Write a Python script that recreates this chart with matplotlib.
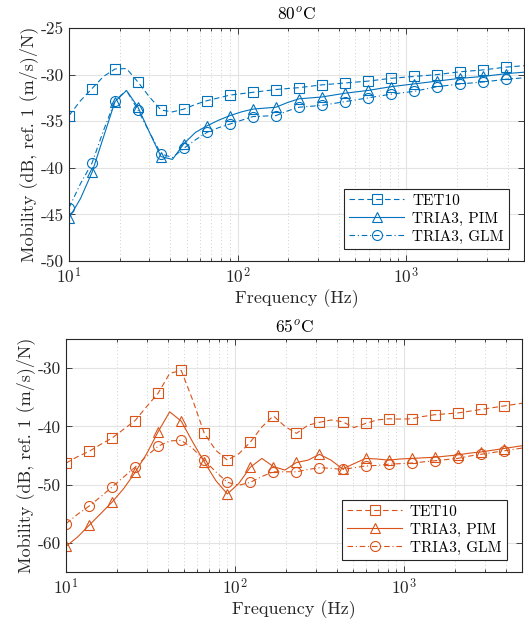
import numpy as np
import matplotlib
matplotlib.use("Agg")
import matplotlib.pyplot as plt
from matplotlib.ticker import FixedLocator, NullFormatter, FuncFormatter

plt.rcParams.update({
    "font.family": "serif",
    "font.serif": ["cmr10"],
    "mathtext.fontset": "cm",
    "axes.unicode_minus": False,
    "axes.formatter.use_mathtext": True,
})

# Frequency samples: half-step log grid, markers on every second sample
freq = np.logspace(1, 1 + 0.0682 * 40, 41)

# 80 degC
tet10_80 = [-34.4, -32.8, -31.5, -30.2, -29.4, -29.35, -30.8, -32.4, -33.8, -34.0,
            -33.7, -33.2, -32.8, -32.5, -32.2, -32.05, -31.9, -31.75, -31.6, -31.5,
            -31.4, -31.25, -31.1, -31.0, -30.9, -30.8, -30.7, -30.55, -30.4, -30.3,
            -30.2, -30.1, -30.0, -29.85, -29.7, -29.6, -29.5, -29.35, -29.2, -29.1, -29.0]
pim_80 = [-45.4, -43.3, -40.5, -36.7, -32.9, -31.7, -33.5, -36.2, -38.8, -39.1,
          -37.4, -36.2, -35.5, -34.9, -34.4, -34.0, -33.7, -33.6, -33.5, -33.0,
          -32.6, -32.5, -32.4, -32.2, -32.0, -31.85, -31.7, -31.5, -31.3, -31.15,
          -31.0, -30.85, -30.7, -30.55, -30.4, -30.3, -30.2, -30.05, -29.9, -29.8, -29.7]
glm_80 = [-44.3, -41.7, -39.5, -36.0, -32.8, -31.7, -33.8, -36.2, -38.5, -38.9,
          -37.9, -37.0, -36.2, -35.7, -35.3, -34.9, -34.5, -34.45, -34.4, -33.9,
          -33.5, -33.4, -33.3, -33.1, -32.9, -32.7, -32.5, -32.3, -32.1, -31.95,
          -31.8, -31.55, -31.3, -31.15, -31.0, -30.9, -30.8, -30.65, -30.5, -30.4, -30.3]

# 65 degC
tet10_65 = [-46.3, -45.2, -44.3, -43.1, -42.0, -40.5, -39.0, -36.6, -34.3, -30.9,
            -30.4, -35.5, -41.2, -44.1, -45.8, -44.7, -42.7, -40.1, -38.2, -40.0,
            -41.2, -39.8, -39.3, -38.9, -39.2, -40.2, -39.5, -38.9, -38.7, -38.75,
            -38.7, -38.3, -38.0, -37.85, -37.7, -37.4, -37.1, -36.8, -36.5, -36.2, -35.9]
pim_65 = [-60.6, -59.0, -57.0, -55.0, -53.0, -50.7, -47.9, -44.7, -40.9, -37.5,
          -39.1, -42.7, -46.1, -49.3, -51.6, -49.8, -47.0, -45.5, -46.9, -47.5,
          -46.2, -45.8, -44.8, -45.8, -47.3, -46.4, -45.5, -45.6, -45.8, -45.6,
          -45.5, -45.4, -45.3, -45.1, -44.9, -44.6, -44.4, -44.1, -43.8, -43.5, -43.2]
glm_65 = [-56.7, -55.1, -53.7, -52.1, -50.4, -48.7, -47.0, -45.1, -43.4, -42.5,
          -42.4, -43.8, -45.8, -47.8, -49.6, -50.1, -49.6, -48.6, -47.8, -47.8,
          -47.8, -47.4, -47.1, -47.2, -47.4, -47.1, -46.8, -46.7, -46.5, -46.4,
          -46.3, -46.1, -45.9, -45.7, -45.5, -45.1, -44.8, -44.5, -44.2, -43.9, -43.6]

labels = ["TET10", "TRIA3, PIM", "TRIA3, GLM"]
titles = [r"80$^o$C", r"65$^o$C"]
ylims = [(-50, -25), (-65, -25)]
yticks = [[-50, -45, -40, -35, -30, -25], [-60, -50, -40, -30]]
colors = ["#0072BD", "#D95319"]

fig = plt.figure(figsize=(5.25, 6.22), dpi=100)
ax_top = fig.add_axes([69 / 525, 1 - 261 / 622, 455 / 525, 233 / 622])
ax_bot = fig.add_axes([66 / 525, 1 - 572 / 622, 456 / 525, 233 / 622])

series = [(tet10_80, pim_80, glm_80), (tet10_65, pim_65, glm_65)]
axes = [ax_top, ax_bot]
edge = "#262626"

minor = [v * 10 ** e for e in (1, 2, 3) for v in range(2, 10)]

for i, ax in enumerate(axes):
    c = colors[i]
    tet, pim, glm = series[i]
    kw = dict(color=c, lw=0.8, markevery=2, markersize=7.2, markerfacecolor="none",
              markeredgewidth=0.8)
    ax.plot(freq, tet, linestyle=(0, (5, 3)), marker="s", label=labels[0], **kw)
    ax.plot(freq, pim, linestyle="-", marker="^", label=labels[1], **kw)
    ax.plot(freq, glm, linestyle=(0, (5, 2.5, 1, 2.5)), marker="o", label=labels[2], **kw)

    ax.set_xscale("log")
    ax.set_xlim(10, 5000)
    ax.set_ylim(*ylims[i])
    ax.set_yticks(yticks[i])
    ax.yaxis.set_major_formatter(FuncFormatter(lambda v, p: f"{int(v)}"))
    ax.xaxis.set_major_locator(FixedLocator([10, 100, 1000]))
    ax.xaxis.set_major_formatter(FuncFormatter(lambda v, p: r"$10^{%d}$" % round(np.log10(v))))
    ax.xaxis.set_minor_locator(FixedLocator(minor))
    ax.xaxis.set_minor_formatter(NullFormatter())

    ax.grid(True, which="major", color="#e3e3e3", lw=0.8)
    ax.grid(True, which="minor", axis="x", color="#d0d0d0", lw=0.7, linestyle=(0, (1, 2.5)))
    ax.set_axisbelow(True)

    for s in ax.spines.values():
        s.set_color(edge)
        s.set_linewidth(0.8)
    ax.tick_params(which="both", direction="in", top=True, right=True, colors=edge,
                   labelsize=12.5, width=0.6)
    ax.tick_params(which="major", length=4.5)
    ax.tick_params(which="minor", length=2.5)
    ax.tick_params(axis="y", which="minor", left=False, right=False)
    ax.tick_params(axis="x", pad=4)
    for lab in ax.get_xticklabels() + ax.get_yticklabels():
        lab.set_color(edge)

    ax.set_title(titles[i], fontsize=12.5, color="black", pad=5)
    ax.set_xlabel("Frequency (Hz)", fontsize=13, color=edge, labelpad=2)
    ax.set_ylabel("Mobility (dB, ref. 1 (m/s)/N)", fontsize=13, color=edge, labelpad=2)

    leg = ax.legend(loc="lower right", bbox_to_anchor=(0.967, 0.052), borderaxespad=0,
                    fontsize=11, fancybox=False, framealpha=1, edgecolor=edge,
                    handlelength=3.6, handletextpad=0.5, borderpad=0.35, labelspacing=0.25)
    leg.get_frame().set_linewidth(0.8)

fig.savefig("out.png", dpi=100)
